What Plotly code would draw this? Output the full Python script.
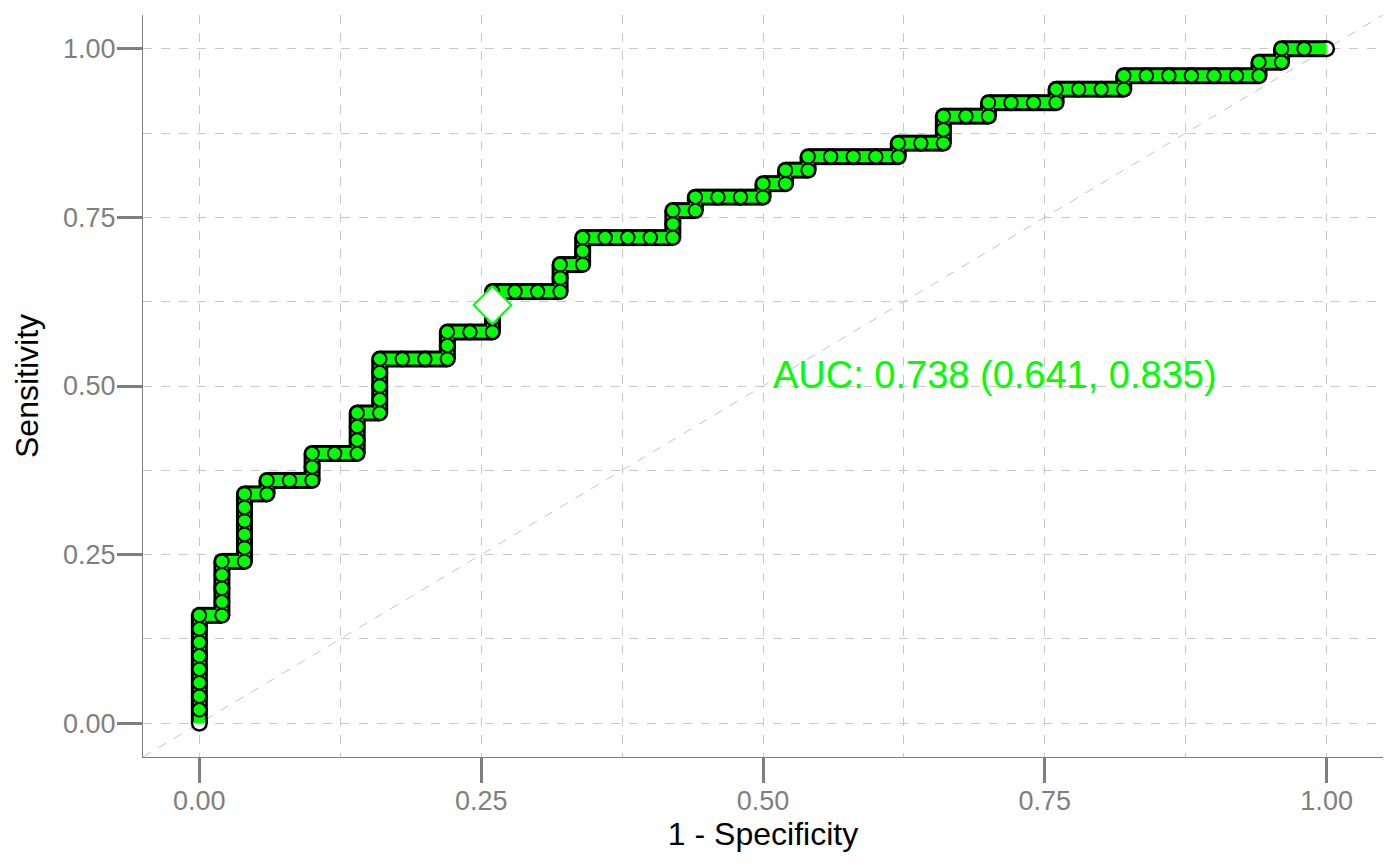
import plotly.graph_objects as go

# ROC curve points (1 - specificity, sensitivity)
fpr = [0, 0, 0, 0, 0, 0, 0, 0, 0,
       .02, .02, .02, .02, .02,
       .04, .04, .04, .04, .04, .04,
       .06, .06,
       .08, .10, .10, .10,
       .12, .14, .14, .14, .14,
       .16, .16, .16, .16, .16,
       .18, .20, .22, .22, .22,
       .24, .26, .26, .26, .26,
       .28, .30, .32, .32, .32,
       .34, .34, .34,
       .36, .38, .40, .42, .42, .42,
       .44, .44,
       .46, .48, .50, .50,
       .52, .52,
       .54, .54,
       .56, .58, .60, .62, .62,
       .64, .66, .66, .66,
       .68, .70, .70,
       .72, .74, .76, .76,
       .78, .80, .82, .82,
       .84, .86, .88, .90, .92, .94, .94,
       .96, .96,
       .98, 1.0]
tpr = [0, .02, .04, .06, .08, .10, .12, .14, .16,
       .16, .18, .20, .22, .24,
       .24, .26, .28, .30, .32, .34,
       .34, .36,
       .36, .36, .38, .40,
       .40, .40, .42, .44, .46,
       .46, .48, .50, .52, .54,
       .54, .54, .54, .56, .58,
       .58, .58, .60, .62, .64,
       .64, .64, .64, .66, .68,
       .68, .70, .72,
       .72, .72, .72, .72, .74, .76,
       .76, .78,
       .78, .78, .78, .80,
       .80, .82,
       .82, .84,
       .84, .84, .84, .84, .86,
       .86, .86, .88, .90,
       .90, .90, .92,
       .92, .92, .92, .94,
       .94, .94, .94, .96,
       .96, .96, .96, .96, .96, .96, .98,
       .98, 1.0,
       1.0, 1.0]

best_fpr = [0.26]
best_tpr = [0.62]
auc_label = "AUC: 0.738 (0.641, 0.835)"

tick_vals = [0, 0.25, 0.5, 0.75, 1.0]
tick_text = ["0.00", "0.25", "0.50", "0.75", "1.00"]
diag = [-0.05, 1.05]

GREEN = "#00ff00"
GRID = "#c8c8c8"
AXC = "#7f7f7f"
FONT = "Liberation Sans, Arial, Helvetica, sans-serif"

# split the path into separate two-point segments (butt caps) so that
# circles at the vertices give rounded joins
seg_x, seg_y = [], []
for i in range(len(fpr) - 1):
    seg_x += [fpr[i], fpr[i + 1], None]
    seg_y += [tpr[i], tpr[i + 1], None]

fig = go.Figure()

# diagonal reference
fig.add_trace(go.Scatter(x=diag, y=diag, mode="lines",
                         line=dict(color="#c4c4c4", width=1, dash="dash"),
                         hoverinfo="skip", showlegend=False))
# black outer band
fig.add_trace(go.Scatter(x=seg_x, y=seg_y, mode="lines", connectgaps=False,
                         line=dict(color="black", width=17),
                         hoverinfo="skip", showlegend=False))
fig.add_trace(go.Scatter(x=fpr, y=tpr, mode="markers",
                         marker=dict(symbol="circle", size=17, color="black", line=dict(width=0)),
                         hoverinfo="skip", showlegend=False))
# white end points
ends_x = [fpr[0], fpr[-1]]
ends_y = [tpr[0], tpr[-1]]
fig.add_trace(go.Scatter(x=ends_x, y=ends_y, mode="markers",
                         marker=dict(symbol="circle", size=12, color="white", line=dict(width=0)),
                         hoverinfo="skip", showlegend=False))
# green inner band
fig.add_trace(go.Scatter(x=seg_x, y=seg_y, mode="lines", connectgaps=False,
                         line=dict(color=GREEN, width=11),
                         hoverinfo="skip", showlegend=False))
# points
fig.add_trace(go.Scatter(x=fpr[1:-1], y=tpr[1:-1], mode="markers",
                         marker=dict(symbol="circle", size=13.5, color=GREEN,
                                     line=dict(color="black", width=2)),
                         showlegend=False))
# best threshold
fig.add_trace(go.Scatter(x=best_fpr, y=best_tpr, mode="markers",
                         marker=dict(symbol="diamond", size=29, color="white",
                                     line=dict(color=GREEN, width=2)),
                         showlegend=False))

fig.add_annotation(x=0.507, y=0.516, xref="x", yref="y", text=auc_label,
                   showarrow=False, xanchor="left", yanchor="middle",
                   font=dict(family=FONT, size=38, color=GREEN))

axis_common = dict(
    range=[-0.05, 1.05], tickvals=tick_vals, ticktext=tick_text,
    showgrid=True, gridcolor=GRID, griddash="dash", gridwidth=1,
    zeroline=False, showline=True, linecolor=AXC, linewidth=1,
    ticks="outside", ticklen=25, tickwidth=3, tickcolor=AXC,
    tickfont=dict(family=FONT, size=27, color=AXC),
    minor=dict(tickvals=[0.125, 0.375, 0.625, 0.875], showgrid=True,
               gridcolor=GRID, griddash="dash", gridwidth=1, ticks=""),
    fixedrange=True,
)

fig.update_layout(
    width=1400, height=866,
    margin=dict(l=135, r=25, t=7, b=117),
    plot_bgcolor="white", paper_bgcolor="white",
    xaxis=dict(axis_common, ticklabelstandoff=-5,
               title=dict(text="1 - Specificity", standoff=4,
                          font=dict(family=FONT, size=32, color="black"))),
    yaxis=dict(axis_common, ticklabelstandoff=-4,
               title=dict(text="Sensitivity", standoff=14,
                          font=dict(family=FONT, size=32, color="black"))),
    showlegend=False,
)

fig.write_html("out.html")
